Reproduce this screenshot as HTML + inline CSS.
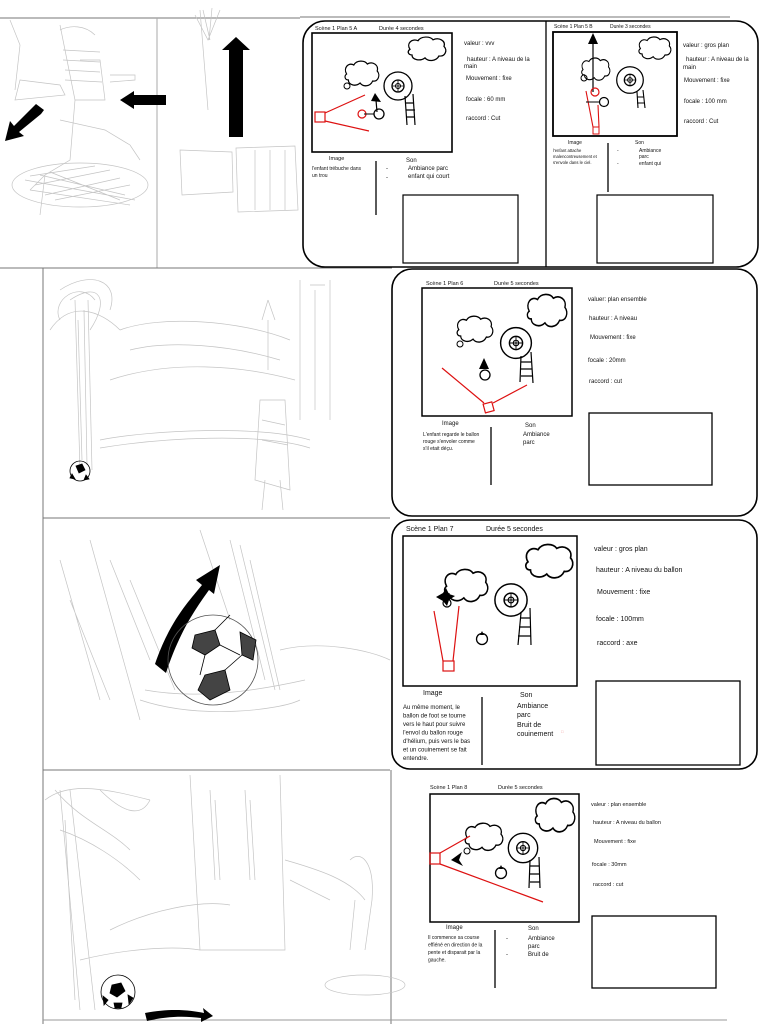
<!DOCTYPE html>
<html><head><meta charset="utf-8"><style>
html,body{margin:0;padding:0;background:#fff}
svg{display:block}
text{font-family:"Liberation Sans",sans-serif;fill:#111}
</style></head><body>
<svg width="764" height="1024" viewBox="0 0 764 1024" xmlns="http://www.w3.org/2000/svg">
<defs>
<g id="cloud"><path d="M4,14 C0,8 6,2 12,5 C15,0 24,0 27,4 C33,1 40,5 38,11 C42,15 39,22 33,21 C30,27 22,27 19,23 C14,27 6,25 6,20 C2,20 1,16 4,14 Z" fill="none" stroke="#000" stroke-width="1.3"/></g>
<g id="wheel"><circle r="14" fill="none" stroke="#000" stroke-width="1.3"/><circle r="6" fill="none" stroke="#000" stroke-width="1.3"/><circle r="2.5" fill="none" stroke="#000" stroke-width="1"/><path d="M-6,0H6M0,-6V6" stroke="#000" stroke-width=".8"/></g>
<g id="apple"><circle r="5.5" fill="none" stroke="#000" stroke-width="1.3"/><path d="M-2,-4 L0,-8 L2,-4 Z" fill="#000"/></g>
</defs>

<g stroke="#777" stroke-width="1" fill="none">
<line x1="0" y1="18" x2="300" y2="18"/>
<line x1="300" y1="17" x2="730" y2="17"/>
<line x1="157" y1="18" x2="157" y2="268" stroke="#aaa"/>
<line x1="0" y1="268" x2="392" y2="268"/>
<line x1="43" y1="268" x2="43" y2="1024"/>
<line x1="43" y1="518" x2="390" y2="518"/>
<line x1="43" y1="770" x2="390" y2="770"/>
<line x1="391" y1="770" x2="391" y2="1024"/>
<line x1="43" y1="1020" x2="390" y2="1020" stroke="#999"/>
<line x1="390" y1="1020" x2="727" y2="1020" stroke="#999"/>
</g>

<g stroke="#c4c4c4" stroke-width=".7" fill="none">
<path d="M60,25 L75,100 L70,160 L45,175 L40,215 M80,60 L100,60 L105,100 L75,100 M20,80 L60,85 L65,95 L15,100 Z M110,75 L135,75 L135,80 L110,82 M60,120 L105,130 L130,145 L140,160 M45,175 L30,190"/>
<ellipse cx="80" cy="185" rx="68" ry="22"/>
<path d="M25,180 L135,200 M30,190 L130,205 M40,175 L125,195 M50,172 L120,200 M35,185 L110,170 M45,195 L120,178 M55,200 L130,185 M30,176 L95,166"/>
<path d="M63,50 L100,52 M63,60 L100,62 M65,70 L100,72 M65,80 L102,82 M60,30 C70,25 85,25 95,35"/>
<path d="M10,20 L20,45 L15,90 M200,10 L208,110 M195,15 L208,40 L220,10 M203,10 L210,40 M212,8 L209,40"/>
<path d="M180,150 L232,152 L233,192 L182,195 Z M236,148 L295,146 L298,210 L238,212 Z M255,150 L255,210 M270,150 L270,210 M285,150 L285,210"/>
<path d="M75,300 L80,470 M88,300 L92,470 M70,300 C100,280 110,300 90,330 M60,320 C50,300 80,280 95,300 M78,320 L82,460 M84,310 L87,465"/>
<path d="M60,290 C90,270 120,280 110,310 M50,330 C70,300 100,310 120,330"/>
<path d="M100,440 C150,430 260,425 310,440 M100,448 C160,438 260,432 310,448"/>
<path d="M300,280 L300,420 M330,280 L330,420 M310,285 L325,285 M315,290 L315,410"/>
<path d="M260,400 L255,480 L290,490 L285,400 Z M265,480 L262,510 M280,480 L283,510 M262,420 L285,425 M262,440 L288,445"/>
<path d="M268,300 L262,320 M268,300 L275,320 M268,320 L268,370"/>
<path d="M120,330 C160,315 240,320 290,340 M110,380 C170,360 240,365 295,380 M130,350 C170,340 230,345 280,360"/>
<path d="M60,560 L100,700 M90,540 L140,720 M200,530 L230,620 M250,560 L280,690 M140,700 C200,720 280,710 300,700 M280,650 C320,640 370,650 390,660 M110,560 L150,660 M130,580 L175,690 M70,600 L110,700 M230,540 L265,680 M240,545 L275,690 M145,690 C200,700 260,690 305,680"/>
<path d="M45,800 C70,780 110,790 150,800 M60,790 L80,1010 M70,790 L95,1010 M190,775 L200,950 L285,950 L280,775 M210,790 L215,880 M245,790 L250,880 M285,860 C320,870 350,880 365,900 M110,930 C150,910 200,900 230,905 M350,860 C360,850 375,860 372,900 L365,950 M355,900 L350,950"/>
<path d="M55,790 C80,820 110,830 130,850 M60,830 C90,840 120,860 140,880 M100,790 C120,810 140,820 150,800 M65,820 L75,1000 M215,800 L220,880 M250,800 L255,880 M290,880 L330,900 M80,960 C120,950 170,945 200,950"/>
<ellipse cx="365" cy="985" rx="40" ry="10"/>
</g>

<g fill="#000">
<path d="M166,95 L134,95 L134,91 L120,100 L134,109 L134,105 L166,105 Z"/>
<path d="M44,110 L36,104 L14,126 L10,121 L5,141 L24,136 L19,132 L41,114 Z"/>
<path d="M229,137 L243,137 L243,50 L250,50 L236,37 L222,50 L229,50 Z"/>
<path d="M155,664 C170,620 190,600 202,585 L196,580 L220,565 L214,594 L209,590 C197,607 180,630 166,673 Z"/>
<path d="M145,1013 C170,1008 190,1010 204,1013 L203,1008 L213,1016 L201,1022 L201,1018 C185,1016 168,1016 147,1021 Z"/>
</g>
<g stroke="#000" stroke-width=".8" fill="none">
<circle cx="213" cy="660" r="45" stroke="#555"/>
<path d="M195,635 L215,630 L220,645 L205,655 L192,648 Z M240,632 L256,640 L253,660 L242,655 Z M205,675 L225,670 L230,690 L210,700 L198,690 Z" fill="#444"/>
<path d="M215,630 L230,615 M220,645 L240,655 M205,655 L200,675 M225,670 L242,655"/>
<circle cx="80" cy="471" r="10"/>
<path d="M76,466 L82,464 L85,470 L79,473 Z M72,474 L75,479 L70,478 Z M86,475 L89,479 L84,480 Z" fill="#000"/>
<circle cx="118" cy="992" r="17"/>
<path d="M112,985 L121,983 L125,991 L117,997 L110,993 Z M103,996 L108,1000 L104,1005 Z M128,995 L133,998 L129,1004 Z M114,1003 L122,1003 L121,1008 L115,1008 Z" fill="#000"/>
</g>

<rect x="303" y="21" width="455" height="246" rx="22" fill="none" stroke="#000" stroke-width="1.6"/>
<line x1="546" y1="21" x2="546" y2="267" stroke="#000" stroke-width="1.3"/>
<text x="315" y="30" font-size="5.5">Scène 1 Plan 5 A</text>
<text x="379" y="30" font-size="5.5">Durée 4 secondes</text>
<rect x="312" y="33" width="140" height="119" fill="none" stroke="#000" stroke-width="1.6"/>
<use href="#cloud" transform="translate(343,60) scale(0.9,1)"/>
<circle cx="347" cy="86" r="3" fill="none" stroke="#000"/>
<use href="#cloud" transform="translate(406,36) scale(1,0.95)"/>
<use href="#wheel" transform="translate(398,86)"/>
<path d="M405,96 L407,125 M413,94 L415,125 M405,103 H414 M406,110 H415 M406,117 H415" stroke="#000" stroke-width="1.2" fill="none"/>
<path d="M325,113 L365,95 M325,121 L369,131" stroke="#d11" stroke-width="1.2"/>
<rect x="315" y="112" width="10" height="10" fill="none" stroke="#d11" stroke-width="1.2"/>
<path d="M377,112 L376,100" stroke="#000" stroke-width="1.2"/>
<path d="M375,93 L381,102 L371,101 Z" fill="#000"/>
<circle cx="362" cy="114" r="4" fill="none" stroke="#d11" stroke-width="1.2"/>
<circle cx="379" cy="114" r="5" fill="none" stroke="#000" stroke-width="1.3"/>
<line x1="364" y1="114" x2="374" y2="114" stroke="#000"/>
<g font-size="6"><text x="464" y="45">valeur :  vvv</text><text x="467" y="61">hauteur : A niveau de la</text><text x="464" y="68">main</text><text x="466" y="80">Mouvement : fixe</text><text x="466" y="101">focale : 60 mm</text><text x="466" y="120">raccord : Cut</text></g>
<text x="329" y="160" font-size="5.5">Image</text>
<g font-size="5"><text x="312" y="170">l'enfant trébuche dans</text><text x="312" y="177">un trou</text></g>
<line x1="376" y1="161" x2="376" y2="215" stroke="#000" stroke-width="1.3"/>
<g font-size="6"><text x="406" y="162">Son</text><text x="386" y="170">-</text><text x="408" y="170">Ambiance parc</text><text x="386" y="179">-</text><text x="408" y="178">enfant qui court</text></g>
<rect x="403" y="195" width="115" height="68" fill="none" stroke="#000" stroke-width="1.2"/>

<text x="554" y="28" font-size="5">Scène 1 Plan 5 B</text>
<text x="610" y="28" font-size="5">Durée 3 secondes</text>
<rect x="553" y="32" width="124" height="104" fill="none" stroke="#000" stroke-width="1.8"/>
<use href="#cloud" transform="translate(580,57) scale(0.75,0.9)"/>
<circle cx="584" cy="78" r="3" fill="none" stroke="#000"/>
<use href="#cloud" transform="translate(637,36) scale(0.85,0.9)"/>
<use href="#wheel" transform="translate(630,80) scale(0.95)"/>
<path d="M637,92 L638,108 M643,90 L645,108 M637,97 H644 M637,103 H645" stroke="#000" stroke-width="1.1" fill="none"/>
<line x1="593" y1="42" x2="593" y2="92" stroke="#000" stroke-width="1.2"/>
<path d="M593,33 L598,44 L588,44 Z" fill="#000"/>
<path d="M586,91 L593,127 M598,105 L599,127" stroke="#d11" stroke-width="1.1" fill="none"/>
<rect x="593" y="127" width="6" height="7" fill="none" stroke="#d11"/>
<circle cx="595" cy="92" r="4" fill="none" stroke="#d11" stroke-width="1.2"/>
<circle cx="604" cy="102" r="4.5" fill="none" stroke="#000" stroke-width="1.2"/>
<line x1="586" y1="102" x2="600" y2="102" stroke="#000"/>
<g font-size="6"><text x="683" y="47">valeur :  gros plan</text><text x="686" y="61">hauteur : A niveau de la</text><text x="683" y="69">main</text><text x="684" y="82">Mouvement : fixe</text><text x="684" y="103">focale : 100 mm</text><text x="684" y="123">raccord : Cut</text></g>
<text x="568" y="144" font-size="5">Image</text>
<g font-size="4.2"><text x="553" y="152">l'enfant attache</text><text x="553" y="158">malencontreusement et</text><text x="553" y="164">s'envole dans le ciel.</text></g>
<line x1="608" y1="143" x2="608" y2="192" stroke="#000" stroke-width="1.3"/>
<g font-size="5"><text x="635" y="144">Son</text><text x="617" y="152">-</text><text x="639" y="152">Ambiance</text><text x="639" y="158">parc</text><text x="617" y="165">-</text><text x="639" y="165">enfant qui</text></g>
<rect x="597" y="195" width="116" height="68" fill="none" stroke="#000" stroke-width="1.2"/>

<rect x="392" y="269" width="365" height="247" rx="20" fill="none" stroke="#000" stroke-width="1.6"/>
<text x="426" y="285" font-size="5.5">Scène 1 Plan 6</text>
<text x="494" y="285" font-size="5.5">Durée 5 secondes</text>
<rect x="422" y="288" width="150" height="128" fill="none" stroke="#000" stroke-width="1.5"/>
<use href="#cloud" transform="translate(455,315) scale(0.95,1.05)"/>
<circle cx="460" cy="344" r="3" fill="none" stroke="#000"/>
<use href="#cloud" transform="translate(525,293) scale(1.05,1.3)"/>
<use href="#wheel" transform="translate(516,343) scale(1.1)"/>
<path d="M521,356 L520,382 M531,352 L533,383 M521,362 H531 M521,369 H532 M521,376 H532" stroke="#000" stroke-width="1.2" fill="none"/>
<path d="M484,358 L489,369 L479,369 Z" fill="#000"/>
<circle cx="485" cy="375" r="5" fill="none" stroke="#000" stroke-width="1.3"/>
<path d="M442,368 L484,403 M493,403 L527,385" stroke="#d11" stroke-width="1.2"/>
<rect x="484" y="403" width="9" height="9" transform="rotate(-15 488 407)" fill="none" stroke="#d11" stroke-width="1.2"/>
<g font-size="6"><text x="588" y="301">valuer: plan ensemble</text><text x="589" y="320">hauteur : A niveau</text><text x="590" y="339">Mouvement : fixe</text><text x="588" y="362">focale : 20mm</text><text x="589" y="383">raccord : cut</text></g>
<rect x="589" y="413" width="123" height="72" fill="none" stroke="#000" stroke-width="1.3"/>
<text x="442" y="425" font-size="6">Image</text>
<g font-size="5"><text x="423" y="436">L'enfant regarde le ballon</text><text x="423" y="443">rouge s'envoler comme</text><text x="423" y="450">s'il etait déçu.</text></g>
<line x1="491" y1="427" x2="491" y2="485" stroke="#000" stroke-width="1.3"/>
<g font-size="6"><text x="525" y="427">Son</text><text x="523" y="436">Ambiance</text><text x="523" y="444">parc</text></g>

<rect x="392" y="520" width="365" height="249" rx="18" fill="none" stroke="#000" stroke-width="1.6"/>
<text x="406" y="531" font-size="7">Scène 1 Plan 7</text>
<text x="486" y="531" font-size="7">Durée 5 secondes</text>
<rect x="403" y="536" width="174" height="150" fill="none" stroke="#000" stroke-width="1.5"/>
<use href="#cloud" transform="translate(442,568) scale(1.15,1.3)"/>
<use href="#cloud" transform="translate(523,543) scale(1.25,1.35)"/>
<use href="#wheel" transform="translate(511,600) scale(1.15)"/>
<path d="M521,613 L518,645 M530,608 L531,645 M520,618 H530 M519,627 H531 M518,636 H531" stroke="#000" stroke-width="1.2" fill="none"/>
<path d="M436,597 L443,593 L446,588 L449,594 L455,596 L449,600 L447,606 L443,601 Z" fill="#000"/>
<circle cx="447" cy="603" r="4" fill="none" stroke="#000" stroke-width="1.2"/>
<use href="#apple" transform="translate(482,639)"/>
<path d="M434,611 L443,661 M459,606 L453,661" stroke="#d11" stroke-width="1.2" fill="none"/>
<rect x="443" y="661" width="11" height="10" fill="none" stroke="#d11" stroke-width="1.2"/>
<g font-size="7"><text x="594" y="551">valeur :  gros plan</text><text x="596" y="572">hauteur : A niveau du ballon</text><text x="597" y="594">Mouvement : fixe</text><text x="596" y="621">focale : 100mm</text><text x="597" y="645">raccord : axe</text></g>
<rect x="596" y="681" width="144" height="84" fill="none" stroke="#000" stroke-width="1.3"/>
<text x="423" y="695" font-size="7">Image</text>
<g font-size="6"><text x="403" y="709">Au même moment, le</text><text x="403" y="717.5">ballon de foot se tourne</text><text x="403" y="726">vers le haut pour suivre</text><text x="403" y="734.5">l'envol du ballon rouge</text><text x="403" y="743">d'hélium, puis vers le bas</text><text x="403" y="751.5">et un couinement se fait</text><text x="403" y="760">entendre.</text></g>
<line x1="482" y1="697" x2="482" y2="765" stroke="#000" stroke-width="1.3"/>
<g font-size="7"><text x="520" y="697">Son</text><text x="517" y="708">Ambiance</text><text x="517" y="717">parc</text><text x="517" y="727">Bruit de</text><text x="517" y="736">couinement</text></g>
<text x="561" y="733" font-size="4" style="fill:#e88">□</text>

<text x="430" y="789" font-size="5.5">Scène 1 Plan 8</text>
<text x="498" y="789" font-size="5.5">Durée 5 secondes</text>
<rect x="430" y="794" width="149" height="128" fill="none" stroke="#000" stroke-width="1.5"/>
<use href="#cloud" transform="translate(463,822) scale(1,1.1)"/>
<circle cx="467" cy="851" r="3" fill="none" stroke="#000"/>
<use href="#cloud" transform="translate(533,797) scale(1.05,1.35)"/>
<use href="#wheel" transform="translate(523,848) scale(1.05)"/>
<path d="M530,860 L529,888 M539,857 L540,888 M530,866 H539 M530,874 H540 M530,882 H540" stroke="#000" stroke-width="1.2" fill="none"/>
<path d="M451,860 L462,852 L459,860 L463,866 Z" fill="#000"/>
<use href="#apple" transform="translate(501,873)"/>
<path d="M440,853 L470,836 M440,864 L543,902" stroke="#d11" stroke-width="1.2" fill="none"/>
<rect x="430" y="853" width="10" height="11" fill="none" stroke="#d11" stroke-width="1.2"/>
<g font-size="5.5"><text x="591" y="806">valeur :  plan ensemble</text><text x="593" y="824">hauteur : A niveau du ballon</text><text x="594" y="843">Mouvement : fixe</text><text x="592" y="866">focale : 30mm</text><text x="593" y="886">raccord :  cut</text></g>
<rect x="592" y="916" width="124" height="72" fill="none" stroke="#000" stroke-width="1.3"/>
<text x="446" y="929" font-size="6">Image</text>
<g font-size="5"><text x="428" y="939">Il commence sa course</text><text x="428" y="946.5">effiéné en direction de la</text><text x="428" y="954">pente et disparait par la</text><text x="428" y="961.5">gauche.</text></g>
<line x1="495" y1="930" x2="495" y2="988" stroke="#000" stroke-width="1.3"/>
<g font-size="6"><text x="528" y="930">Son</text><text x="506" y="940">-</text><text x="528" y="940">Ambiance</text><text x="528" y="948">parc</text><text x="506" y="956">-</text><text x="528" y="956">Bruit de</text></g>
</svg>
</body></html>
